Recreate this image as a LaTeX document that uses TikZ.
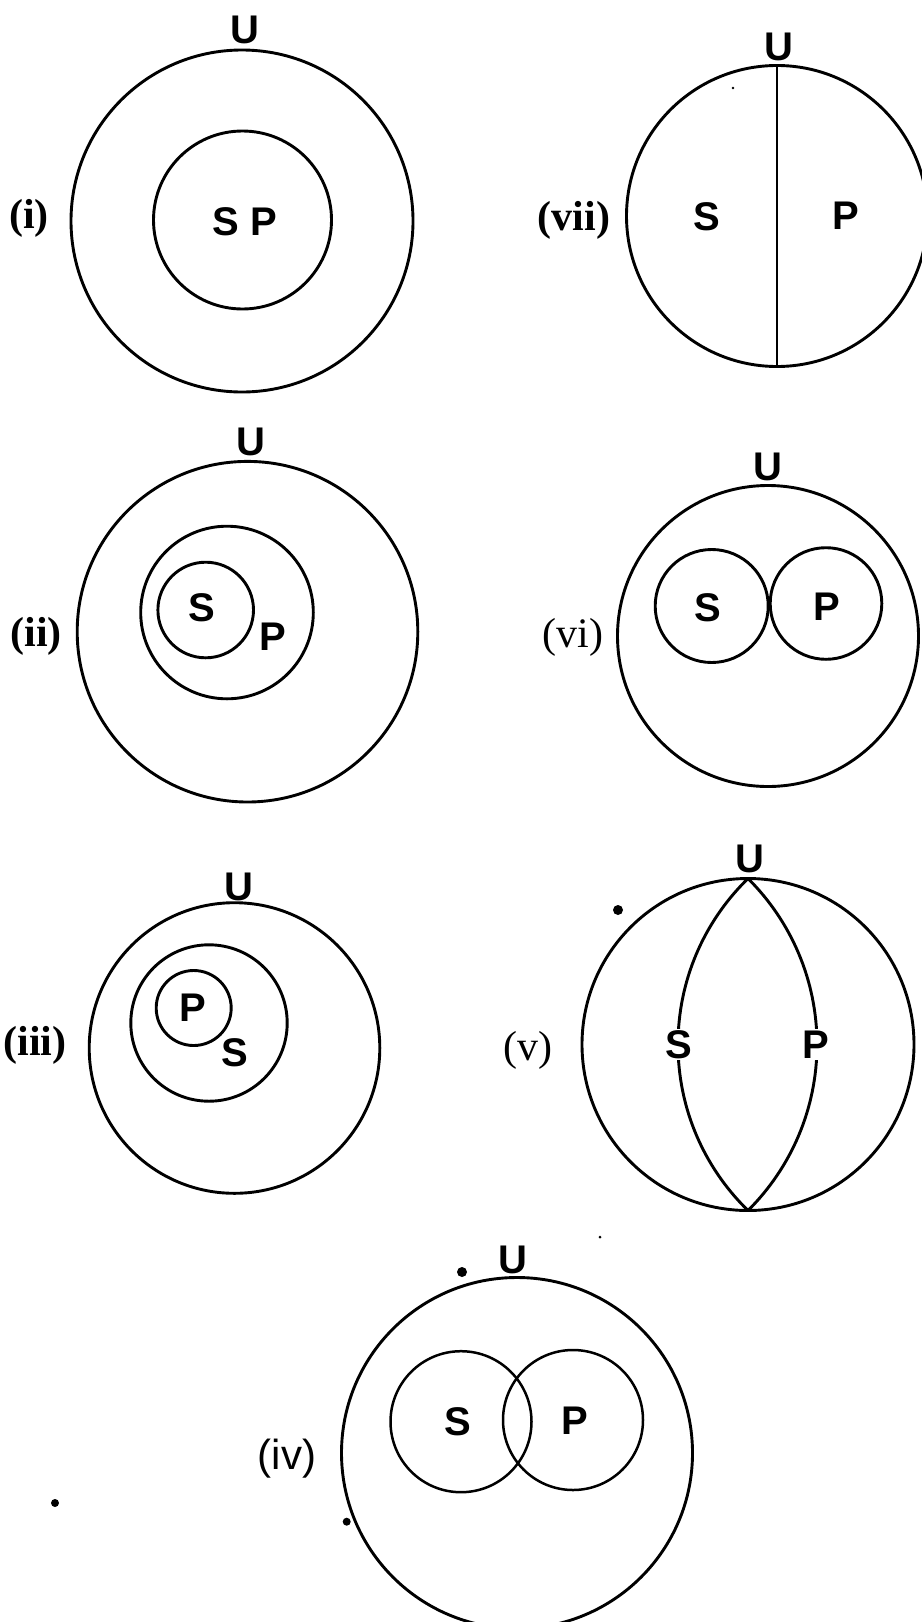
\documentclass[tikz,border=0pt]{standalone}
\usepackage{fontspec}
\setmainfont{Liberation Serif}
\newfontfamily\lsans{Liberation Sans}
\begin{document}
\begin{tikzpicture}[x=1pt,y=-1pt,
  ring/.style={line width=2.9pt},
  thinring/.style={line width=2.5pt},
  lett/.style={font=\lsans\bfseries\fontsize{40}{48}\selectfont,inner sep=0pt,anchor=base},
  onarc/.style={lett,fill=white,inner sep=1.5pt},
  lbl/.style={font=\bfseries\fontsize{42}{50}\selectfont,inner sep=0pt},
  lblr/.style={font=\fontsize{42}{50}\selectfont,inner sep=0pt},
  lbls/.style={font=\lsans\fontsize{42}{50}\selectfont,inner sep=0pt},
  speck/.style={fill=black}]
\useasboundingbox (0,0) rectangle (921,1622);

% (i)
\draw[ring] (242,221) circle[radius=171pt];
\draw[ring] (242.5,220) circle[radius=89pt];
\node[lett] (u1) at (245,43) {U};
\node[lett] (sp1) at (245,235) {S P};
\node[lbl] (l1) at (29,218) {(i)};

% (vii)
\draw[ring] (777,216) circle[radius=150.5pt];
\coordinate (t7) at (777,65.5);
\coordinate (b7) at (777,366.5);
\draw[ring] (t7) -- (b7);
\node[lett] (u7) at (779,60) {U};
\node[lett] (s7) at (706.7,230) {S};
\node[lett] (p7) at (845.7,229) {P};
\node[lbl] (l7) at (574,220) {(vii)};
\fill[speck] (733,88) circle[radius=1.3pt];

% (ii)
\draw[ring] (247.5,631.7) circle[radius=170.3pt];
\draw[ring] (227,612.5) circle[radius=86.3pt];
\draw[ring] (205.7,610) circle[radius=47.8pt];
\node[lett] (u2) at (251,455) {U};
\node[lett] (s2) at (202,621.7) {S};
\node[lett] (p2) at (273,650) {P};
\node[lbl] (l2) at (36,636.7) {(ii)};

% (vi)
\draw[ring] (768,636) circle[radius=150.5pt];
\draw[ring] (711.7,606) circle[radius=56.5pt];
\draw[ring] (826,603.5) circle[radius=55.8pt];
\node[lett] (u6) at (768,480) {U};
\node[lett] (s6) at (708.3,621.7) {S};
\node[lett] (p6) at (826.7,620) {P};
\node[lblr] (l6) at (573,637.5) {(vi)};

% (iii)
\draw[ring] (234.5,1048) circle[radius=145.3pt];
\draw[ring] (209,1023) circle[radius=78.2pt];
\draw[ring] (193.7,1008) circle[radius=37.5pt];
\node[lett] (u3) at (239,900) {U};
\node[lett] (p3) at (193.3,1021.7) {P};
\node[lett] (s3) at (235,1066.7) {S};
\node[lbl] (l3) at (35,1045.8) {(iii)};

% (v)
\draw[ring] (748,1044.5) circle[radius=166pt];
\begin{scope}
  \clip (748,1044.5) circle[radius=166pt];
  \draw[ring] (909.8,1044.5) circle[radius=231.8pt];
  \draw[ring] (582.8,1044.5) circle[radius=234.2pt];
\end{scope}
\node[lett] (u5) at (750,872) {U};
\node[onarc] (s5) at (679.3,1058.3) {S};
\node[onarc] (p5) at (816,1058) {P};
\node[lblr] (l5) at (527.5,1050) {(v)};
\fill[speck] (618,910) circle[radius=5pt];

% (iv)
\draw[ring] (517,1453) circle[radius=175.5pt];
\draw[thinring] (461,1421.7) circle[radius=70.5pt];
\draw[thinring] (573,1420) circle[radius=70pt];
\node[lett] (u4) at (513,1273) {U};
\node[lett] (s4) at (458.3,1435) {S};
\node[lett] (p4) at (575,1434) {P};
\node[lbls] (l4) at (287,1459) {(iv)};
\fill[speck] (462,1272) circle[radius=5pt];
\fill[speck] (346.7,1521.7) circle[radius=4pt];
\fill[speck] (55,1503) circle[radius=4pt];
\fill[speck] (600,1237) circle[radius=1.5pt];
\end{tikzpicture}
\end{document}
